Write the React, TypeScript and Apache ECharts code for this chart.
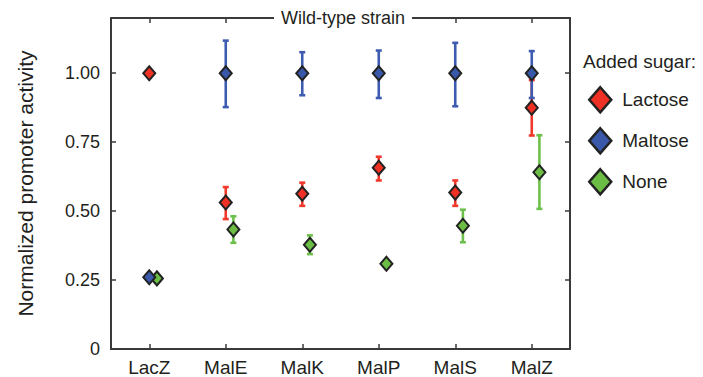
import React, { useEffect, useRef } from "react";
import * as echarts from "echarts";

const categories = ["LacZ", "MalE", "MalK", "MalP", "MalS", "MalZ"];
const sugars = ["Lactose", "Maltose", "None"];

// mean, low, high per category
const lactoseMean = [1.0, 0.531, 0.563, 0.657, 0.567, 0.875];
const lactoseLow = [1.0, 0.471, 0.519, 0.611, 0.519, 0.774];
const lactoseHigh = [1.0, 0.587, 0.603, 0.697, 0.611, 0.975];

const maltoseMean = [0.26, 1.0, 1.0, 1.0, 1.0, 1.0];
const maltoseLow = [0.26, 0.877, 0.92, 0.91, 0.88, 0.91];
const maltoseHigh = [0.26, 1.118, 1.076, 1.082, 1.11, 1.08];

const noneMean = [0.256, 0.433, 0.378, 0.309, 0.447, 0.641];
const noneLow = [0.256, 0.385, 0.344, 0.3, 0.387, 0.508];
const noneHigh = [0.256, 0.481, 0.412, 0.318, 0.505, 0.775];

const offsets = [0, 0, 0.1];
const colors = ["#ee3124", "#3a58aa", "#6cbd45"];
const barColors = ["#f0392c", "#3d5bb0", "#6dc04b"];

const yTicks = [0, 0.25, 0.5, 0.75, 1.0];

const TEXT = "#231f20";
const AXIS = "#3a3a3a";
const FONT = "Liberation Sans, Arial, Helvetica, sans-serif";

export default function App() {
  const ref = useRef<HTMLDivElement>(null);
  useEffect(() => {
    if (!ref.current) return;
    const chart = echarts.init(ref.current, undefined, { renderer: "svg" });
    const means = [lactoseMean, maltoseMean, noneMean];
    const lows = [lactoseLow, maltoseLow, noneLow];
    const highs = [lactoseHigh, maltoseHigh, noneHigh];

    const errSeries = [0, 2, 1].map((s) => ({
      type: "custom",
      name: sugars[s] + " error",
      xAxisIndex: 2,
      yAxisIndex: 0,
      z: 2,
      data: categories.map((_, i) => [i + offsets[s], lows[s][i], highs[s][i]]),
      encode: { x: 0, y: [1, 2] },
      renderItem: (params: any, api: any) => {
        const x = api.value(0);
        const lo = api.value(1);
        const hi = api.value(2);
        if (hi - lo < 1e-6) return { type: "group", children: [] };
        const pLo = api.coord([x, lo]);
        const pHi = api.coord([x, hi]);
        const w = 3;
        const style = { stroke: barColors[s], lineWidth: 2.6 };
        return {
          type: "group",
          children: [
            { type: "line", shape: { x1: pHi[0], y1: pHi[1], x2: pLo[0], y2: pLo[1] }, style },
            { type: "line", shape: { x1: pHi[0] - w, y1: pHi[1], x2: pHi[0] + w, y2: pHi[1] }, style },
            { type: "line", shape: { x1: pLo[0] - w, y1: pLo[1], x2: pLo[0] + w, y2: pLo[1] }, style },
          ],
        };
      },
    }));

    const pointSeries = [0, 2, 1].map((s) => ({
      type: "scatter",
      name: sugars[s],
      xAxisIndex: 2,
      yAxisIndex: 0,
      z: 5,
      symbol: "diamond",
      symbolSize: [12, 14],
      itemStyle: { color: colors[s], borderColor: "#222", borderWidth: 2, opacity: 1 },
      data: categories.map((_, i) => [i + offsets[s], means[s][i]]),
    }));

    const axisLine = { show: true, onZero: false, lineStyle: { color: AXIS, width: 2 } };
    const axisTick = { show: true, inside: true, length: 5, lineStyle: { color: AXIS, width: 1.5 } };

    chart.setOption({
      animation: false,
      textStyle: { fontFamily: FONT },
      grid: { left: 111, right: 133, top: 18, bottom: 27 },
      xAxis: [
        {
          type: "category",
          data: categories,
          position: "bottom",
          boundaryGap: true,
          axisLine,
          axisTick: { ...axisTick, alignWithLabel: true },
          axisLabel: { color: TEXT, fontSize: 19, margin: 9, fontFamily: FONT },
        },
        {
          type: "category",
          data: categories,
          position: "top",
          boundaryGap: true,
          axisLine,
          axisTick: { ...axisTick, alignWithLabel: true },
          axisLabel: { show: false },
        },
        { type: "value", min: -0.5, max: 5.5, show: false },
      ],
      yAxis: [
        {
          type: "value",
          min: 0,
          max: 1.2,
          interval: 0.25,
          position: "left",
          name: "Normalized promoter activity",
          nameLocation: "middle",
          nameRotate: 90,
          nameGap: 75,
          nameTextStyle: { color: TEXT, fontSize: 21, fontFamily: FONT },
          splitLine: { show: false },
          axisLine,
          axisTick,
          axisLabel: {
            color: TEXT,
            fontSize: 18,
            margin: 11,
            fontFamily: FONT,
            showMaxLabel: false,
            formatter: (v: number) => (yTicks.indexOf(v) < 0 ? "" : v === 0 ? "0" : v.toFixed(2)),
          },
        },
        {
          type: "value",
          min: 0,
          max: 1.2,
          interval: 0.25,
          position: "right",
          splitLine: { show: false },
          axisLine,
          axisTick,
          axisLabel: { show: false },
        },
      ],
      legend: {
        orient: "vertical",
        left: 588,
        top: 86,
        padding: 0,
        itemWidth: 22,
        itemHeight: 25,
        itemGap: 13.5,
        data: sugars.map((n) => ({ name: n, icon: "diamond" })),
        itemStyle: { borderColor: "#222", borderWidth: 2.5 },
        textStyle: { color: TEXT, fontSize: 19, fontFamily: FONT, padding: [0, 0, 0, 6] },
        selectedMode: false,
      },
      graphic: [
        {
          type: "text",
          x: 343,
          y: 18,
          z: 100,
          style: {
            text: "Wild-type strain",
            fill: TEXT,
            font: `18px ${FONT}`,
            align: "center",
            verticalAlign: "middle",
            backgroundColor: "#fff",
            padding: [2, 7],
          },
        },
        {
          type: "text",
          x: 583,
          y: 61,
          z: 100,
          style: {
            text: "Added sugar:",
            fill: TEXT,
            font: `19px ${FONT}`,
            align: "left",
            verticalAlign: "middle",
          },
        },
      ],
      series: [...errSeries, ...pointSeries],
    });
    return () => chart.dispose();
  }, []);
  return (
    <div
      ref={ref}
      style={{ position: "fixed", left: 0, top: 0, width: 703, height: 377, background: "#fff" }}
    />
  );
}
